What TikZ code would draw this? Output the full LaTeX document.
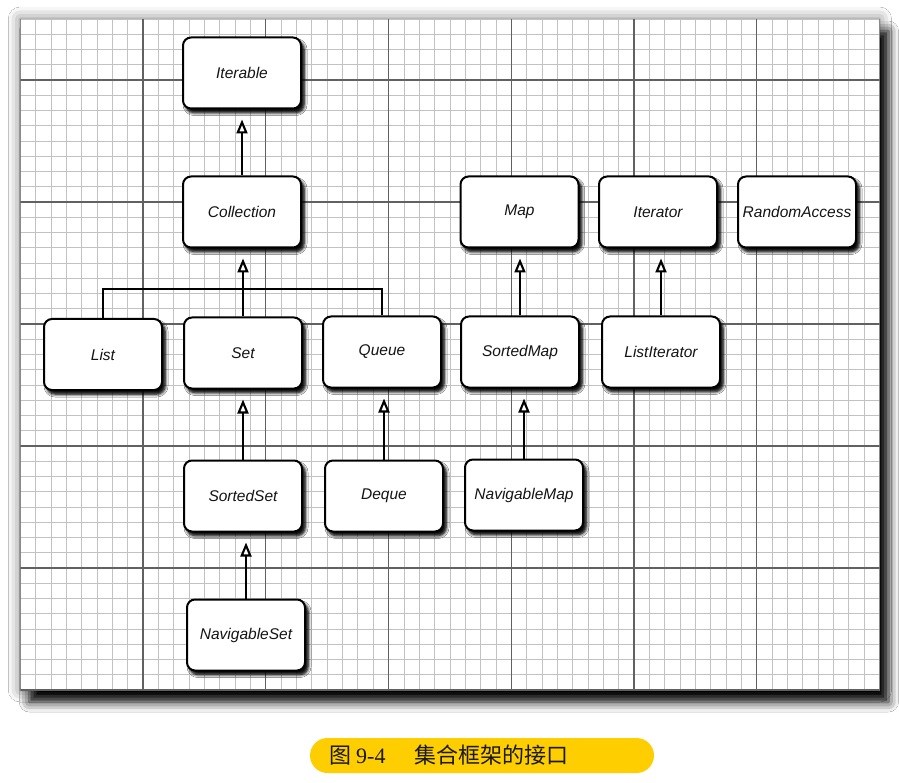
\documentclass[tikz,border=0pt]{standalone}
\usepackage{fontspec}
\setmainfont{Liberation Sans}
\newfontfamily\cjkfont{Noto Sans CJK SC}
\newfontfamily\numfont{Liberation Serif}
\usetikzlibrary{arrows.meta,shadows.blur}
\definecolor{capyellow}{RGB}{255,206,0}
\tikzset{
  iface/.style={draw=black, line width=2pt, rounded corners=8pt, fill=white,
    minimum width=118pt, minimum height=71pt, inner sep=0pt,
    font=\fontsize{15.5}{18}\selectfont\itshape, text=black!92,
    blur shadow={shadow xshift=4.5pt, shadow yshift=-6pt, shadow blur radius=6pt, shadow opacity=100},
    blur shadow={shadow xshift=3pt, shadow yshift=-4pt, shadow blur radius=3pt, shadow opacity=80}},
  ext/.style={line width=2.1pt, -{Triangle[length=14pt,width=11pt,fill=white]}, shorten >=10pt},
  link/.style={line width=2.1pt},
  minorline/.style={draw=black!24, line width=0.7pt},
  majorline/.style={draw=black!62, line width=1.1pt},
  panel/.style={fill=white, draw=none,
    blur shadow={shadow xshift=9pt, shadow yshift=-12pt, shadow blur radius=10pt, shadow opacity=100}},
  halo/.style={fill=white, draw=none,
    blur shadow={shadow xshift=0pt, shadow yshift=0pt, shadow blur radius=12pt, shadow opacity=55}},
  capbox/.style={fill=capyellow, rounded corners=17.5pt, minimum width=344pt, minimum height=35pt, inner sep=0pt},
  captext/.style={font=\fontsize{22}{24}\selectfont, text=black!90, inner sep=0pt, anchor=west},
}
\begin{document}
\begin{tikzpicture}[x=1pt, y=-1pt]
\useasboundingbox (0,0) rectangle (899,783);
\fill[white] (0,0) rectangle (899,783);
% grid panel with shadow
\path[halo] (20.25,19) rectangle (879.5,690);
\path[panel] (20.25,19) rectangle (879.5,690);
\begin{scope}
  \clip (20.25,19) rectangle (879.5,690);
  \foreach \i in {0,...,56} \draw[minorline] ({20.25+\i*15.344},19) -- ({20.25+\i*15.344},690);
  \foreach \j in {0,...,44} \draw[minorline] (20.25,{690-\j*15.25}) -- (879.5,{690-\j*15.25});
  \foreach \i in {0,8,...,56} \draw[majorline] ({20.25+\i*15.344},19) -- ({20.25+\i*15.344},690);
  \foreach \j in {0,8,...,40} \draw[majorline] (20.25,{690-\j*15.25}) -- (879.5,{690-\j*15.25});
\end{scope}
% interface boxes
\node[iface] (iterable) at (242,73) {Iterable};
\node[iface] (collection) at (242,212) {Collection};
\node[iface] (map) at (519.5,212) {Map};
\node[iface] (iterator) at (658,212) {Iterator};
\node[iface] (randomaccess) at (797,212) {RandomAccess};
\node[iface] (list) at (103,354.5) {List};
\node[iface] (set) at (243,353) {Set};
\node[iface] (queue) at (382,352) {Queue};
\node[iface] (sortedmap) at (520,352) {SortedMap};
\node[iface] (listiterator) at (661,352) {ListIterator};
\node[iface] (sortedset) at (243,496) {SortedSet};
\node[iface] (deque) at (384,496) {Deque};
\node[iface] (navigablemap) at (524,495) {NavigableMap};
\node[iface] (navigableset) at (246,635) {NavigableSet};
% connectors
\coordinate (bar) at (0,289);
\draw[ext] (collection.north) -- (collection.north |- iterable.south);
\draw[ext] (set.north) -- (set.north |- collection.south);
\draw[link] (list.north) -- (list.north |- bar) -| (queue.north);
\draw[ext] (sortedset.north) -- (sortedset.north |- set.south);
\draw[ext] (navigableset.north) -- (navigableset.north |- sortedset.south);
\draw[ext] (deque.north) -- (deque.north |- queue.south);
\draw[ext] (sortedmap.north) -- (sortedmap.north |- map.south);
\draw[ext] (navigablemap.north) -- (navigablemap.north |- sortedmap.south);
\draw[ext] (listiterator.north) -- (listiterator.north |- iterator.south);
% caption
\node[capbox] (caption) at (482,755.5) {};
\node[captext] (capfig) at (329,755.5) {\cjkfont 图};
\node[captext] (capnum) at (356,756.5) {\numfont 9-4};
\node[captext] (captitle) at (414,755.5) {\cjkfont 集合框架的接口};
\end{tikzpicture}
\end{document}
